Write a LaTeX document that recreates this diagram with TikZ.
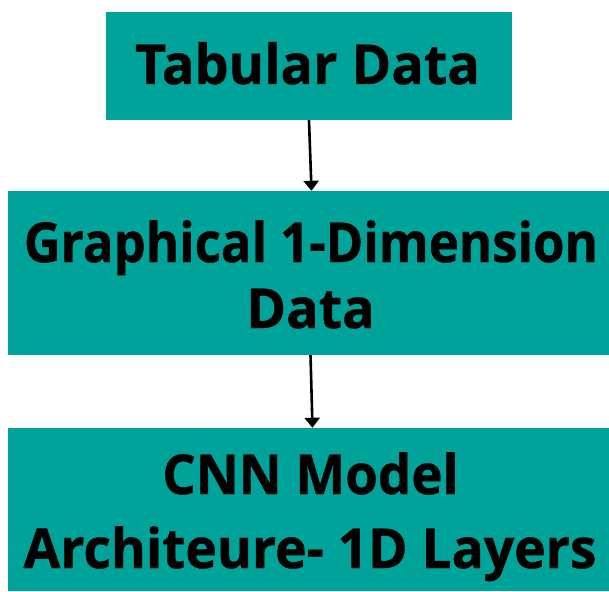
\documentclass[tikz,border=0pt]{standalone}
\usepackage{fontspec}
\usepackage{graphicx}
\setmainfont{Open Sans}[BoldFeatures={FakeBold=0.8}]
\usetikzlibrary{arrows.meta}
\definecolor{teal1}{HTML}{00A39A}
\tikzset{
  box/.style={fill=teal1, draw=none, inner sep=0pt},
  lbl/.style={anchor=base, inner sep=0pt, text=black,
    font=\fontsize{55}{66}\selectfont\bfseries},
  conn/.style={line width=2.6pt, -{Triangle[width=15pt,length=10pt]}}
}
\begin{document}
\begin{tikzpicture}[x=1pt,y=-1pt]
\useasboundingbox (0,0) rectangle (609,591);
\node[box, minimum width=406pt, minimum height=108pt] (b1) at (309,66) {};
\node[box, minimum width=601pt, minimum height=164pt] (b2) at (308.5,273) {};
\node[box, minimum width=601pt, minimum height=163pt] (b3) at (308.5,509.5) {};
\node[lbl] (t1) at (307.5,84) {\scalebox{0.98}[1]{Tabular Data}};
\node[lbl] (t2a) at (311,262) {\scalebox{0.925}[1]{Graphical 1-Dimension}};
\node[lbl] (t2b) at (310.5,328) {\scalebox{0.98}[1]{Data}};
\node[lbl] (t3a) at (310.5,494) {\scalebox{0.96}[1]{CNN Model}};
\node[lbl] (t3b) at (310,568) {\scalebox{0.97}[1]{Architeure- 1D Layers}};
\draw[conn] ([xshift=0pt]b1.south) -- ([xshift=3pt]b2.north);
\draw[conn] ([xshift=2pt]b2.south) -- ([xshift=4pt]b3.north);
\end{tikzpicture}
\end{document}
